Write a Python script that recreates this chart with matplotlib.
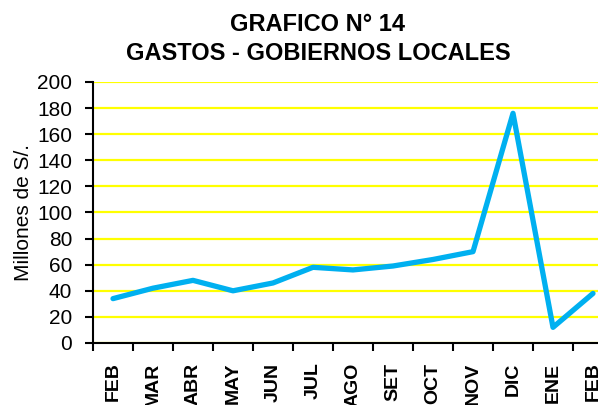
import matplotlib
matplotlib.use('Agg')
import matplotlib.pyplot as plt

# monthly spending, millions of S/.
months = ['FEB', 'MAR', 'ABR', 'MAY', 'JUN', 'JUL', 'AGO', 'SET', 'OCT', 'NOV', 'DIC', 'ENE', 'FEB']
gastos = [34, 42, 48, 40, 46, 58, 56, 59, 64, 70, 176, 12, 38]
yticks = list(range(0, 201, 20))

plt.rcParams['font.family'] = ['Liberation Sans', 'DejaVu Sans']

fig = plt.figure(figsize=(5.98, 4.05), dpi=100)
# the plot area runs past the right edge, like in the original export
ax = fig.add_axes([93 / 598, 1 - 343 / 405, 520 / 598, 261 / 405])

x = list(range(len(months)))
ax.plot(x, gastos, color='#00B0F0', linewidth=3.8, solid_joinstyle='round',
        solid_capstyle='round', zorder=3)

ax.set_ylim(0, 200)
ax.set_xlim(-0.5, len(months) - 0.5)
ax.set_yticks(yticks)
ax.yaxis.grid(True, color='#FFFF00', linewidth=1.6)
ax.set_axisbelow(True)

# tick marks between categories, labels centered
ax.set_xticks([i - 0.5 for i in range(len(months) + 1)])
ax.set_xticklabels([])
ax.set_xticks(x, minor=True)
ax.set_xticklabels(months, minor=True, rotation=90, fontsize=14, fontweight='bold')
ax.tick_params(axis='x', which='minor', length=0, pad=14)
ax.tick_params(axis='x', which='major', length=6, width=1.5, direction='out')
ax.tick_params(axis='y', length=6, width=1.5, labelsize=15, pad=9)

for s in ['top', 'right']:
    ax.spines[s].set_visible(False)
for s in ['left', 'bottom']:
    ax.spines[s].set_linewidth(1.5)

ax.set_ylabel('Millones de S/.', fontsize=15)
ax.yaxis.set_label_coords(-60 / 520, 0.5)

fig.text(318 / 598, 1 - 39 / 405, 'GRAFICO N° 14\nGASTOS - GOBIERNOS LOCALES', ha='center', va='center',
         fontsize=17, fontweight='bold', linespacing=1.3)

fig.savefig('out.png', dpi=100)
